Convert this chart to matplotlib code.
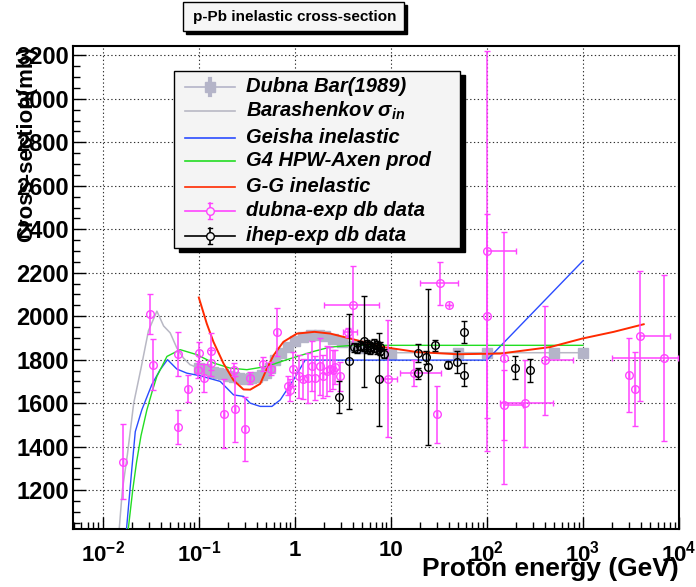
import numpy as np
import matplotlib
matplotlib.use("Agg")
import matplotlib.pyplot as plt
from matplotlib.patches import Rectangle
from matplotlib.lines import Line2D
from matplotlib.ticker import FixedLocator, FixedFormatter, MultipleLocator, NullFormatter

plt.rcParams['font.family'] = ['Liberation Sans', 'DejaVu Sans']
plt.rcParams['font.weight'] = 'bold'
plt.rcParams['mathtext.fontset'] = 'custom'
plt.rcParams['mathtext.rm'] = 'Liberation Sans:bold'
plt.rcParams['mathtext.it'] = 'Liberation Sans:bold:italic'
plt.rcParams['mathtext.bf'] = 'Liberation Sans:bold'

# --- model curves (energy GeV, sigma mb) ---
bar_E = [0.0147, 0.0160, 0.0180, 0.0210, 0.0250, 0.0299, 0.0366, 0.043, 0.0504, 0.059, 0.069,
         0.081, 0.099, 0.15, 0.2, 0.3, 0.4, 0.5, 0.6, 0.7, 0.85, 1.0, 1.25, 1.5, 2.0, 3.0, 5.0,
         10, 100, 1000]
bar_sig = [1000, 1200, 1360, 1600, 1760, 1933, 2023, 1955, 1923, 1854, 1808,
           1777, 1762, 1740, 1728, 1715, 1720, 1740, 1775, 1810, 1855, 1880, 1902, 1912, 1915, 1893, 1855,
           1832, 1832, 1832]

geisha_E = [0.0175, 0.0201, 0.0218, 0.0255, 0.0324, 0.0396, 0.0472, 0.059, 0.075, 0.103, 0.167,
            0.23, 0.292, 0.343, 0.436, 0.577, 0.705, 0.97, 1.28, 2.34, 10, 100, 1000]
geisha_sig = [1000, 1301, 1469, 1569, 1685, 1754, 1800, 1757, 1738, 1726, 1700,
              1638, 1631, 1600, 1585, 1585, 1615, 1708, 1798, 1798, 1798, 1798, 2255]

g4_E = [0.0182, 0.0205, 0.0225, 0.0250, 0.0288, 0.0330, 0.0366, 0.0466, 0.064, 0.0955, 0.142,
        0.212, 0.317, 0.51, 0.826, 1.57, 2.34, 4.0, 10, 1000]
g4_sig = [1000, 1200, 1330, 1450, 1569, 1660, 1723, 1815, 1846, 1823, 1785,
          1761, 1754, 1769, 1800, 1838, 1858, 1866, 1866, 1866]

gg_E = [0.1, 0.121, 0.142, 0.181, 0.23, 0.292, 0.343, 0.436, 0.51, 0.6, 0.76, 1.05, 1.6,
        2.34, 3.78, 8.4, 18.7, 49, 138, 457, 980, 2090, 4290]
gg_sig = [2086, 1966, 1882, 1782, 1705, 1663, 1662, 1689, 1758, 1820, 1882, 1920, 1928,
          1920, 1897, 1858, 1835, 1825, 1828, 1858, 1897, 1928, 1963]

# --- Dubna Bar (1989) ---
dbar_E = [0.1, 0.12, 0.14, 0.16, 0.18, 0.2, 0.23, 0.26, 0.3, 0.35, 0.4, 0.45, 0.5, 0.55,
          0.62, 0.72, 0.84, 1.0, 1.23, 1.48, 1.77, 2.07, 2.52, 3.1, 4.1, 5.0, 10, 50, 100, 500, 1000]
dbar_sig = [1762, 1755, 1745, 1738, 1732, 1726, 1720, 1716, 1712, 1714, 1720, 1728, 1738, 1760,
            1800, 1830, 1860, 1885, 1905, 1913, 1913, 1910, 1897, 1882, 1865, 1855, 1828, 1832, 1832, 1832, 1832]

# --- dubna-exp db data: E, sigma, yerr, x-bar low end, x-bar high end (0 = none) ---
dub_E = [0.0164, 0.0312, 0.0337, 0.0605, 0.0605, 0.0769, 0.098, 0.100, 0.114, 0.135, 0.135,
         0.185, 0.23, 0.239, 0.304, 0.343, 0.461, 0.568, 0.65, 0.84, 0.895, 0.95, 1.11, 1.21,
         1.37, 1.5, 1.63, 1.81, 1.96, 2.16, 2.34, 2.5, 2.63, 2.97, 3.57, 4.03, 9.3, 17.2,
         30.2, 32.1, 40.5, 100, 100, 149, 149, 251, 399, 3000, 3470, 3960, 6920]
dub_sig = [1331, 2008, 1777, 1826, 1492, 1666, 1754, 1831, 1714, 1838, 1785,
           1551, 1754, 1572, 1480, 1715, 1780, 1758, 1928, 1680, 1662, 1757, 1723, 1711,
           1715, 1769, 1715, 1769, 1723, 1746, 1757, 1754, 1766, 1723, 1926, 2050, 1712, 1738,
           1548, 2151, 2051, 2300, 2000, 1808, 1592, 1600, 1797, 1728, 1666, 1908, 1808]
dub_err = [171, 92, 117, 100, 78, 62, 40, 50, 65, 85, 60,
           158, 31, 151, 146, 27, 30, 30, 110, 43, 50, 80, 100, 90,
           115, 115, 100, 130, 100, 115, 100, 90, 80, 65, 20, 180, 270, 60,
           130, 98, 0, 920, 470, 580, 160, 200, 250, 170, 170, 300, 380]
dub_xlo = [0] * 34 + [3.2, 2.0, 7.8, 12.5, 0, 19.9, 0, 100, 0, 0, 149, 138, 399, 0, 0, 3960, 2010]
dub_xhi = [0] * 34 + [4.4, 7.5, 11.5, 33.0, 0, 49.5, 0, 200, 0, 0, 235, 490, 796, 0, 0, 8000, 9860]

# --- ihep-exp db data ---
ihep_E = [2.85, 3.63, 4.09, 4.43, 4.8, 5.2, 5.2, 5.63, 5.63, 6.1, 6.1, 6.6, 6.6, 7.16, 7.16,
          7.76, 7.76, 8.4, 7.45, 19, 19, 23.4, 24.3, 29, 39.4, 48.8, 58.2, 58.2, 198, 279]
ihep_sig = [1628, 1792, 1857, 1850, 1865, 1885, 1860, 1870, 1850, 1860, 1845, 1875, 1855, 1868, 1848,
            1860, 1840, 1828, 1709, 1831, 1738, 1812, 1766, 1866, 1777, 1789, 1928, 1731, 1762, 1751]
ihep_err = [75, 218, 20, 20, 20, 210, 20, 20, 20, 20, 20, 20, 20, 20, 20,
            20, 20, 20, 215, 40, 25, 30, 360, 25, 15, 50, 50, 52, 53, 54]

W, H = 696, 587
def fx(px):
    return px / W
def fy(py):
    return 1 - py / H

C_BAR = '#b4b4c8'
C_BARLINE = '#b8b8c4'
C_BLUE = '#2b4cff'
C_GREEN = '#22dd22'
C_RED = '#ff2a00'
C_MAG = '#ff44ff'

fig = plt.figure(figsize=(6.96, 5.87), dpi=100)
ax = fig.add_axes([fx(73), fy(529), (679 - 73) / W, (529 - 46) / H])
ax.set_xscale('log')
ax.set_xlim(10 ** -2.31, 1e4)
ax.set_ylim(1021, 3243)

ax.plot(bar_E, bar_sig, color=C_BARLINE, lw=1.1, zorder=2)
ax.errorbar(dbar_E, dbar_sig, yerr=12, fmt='s', color=C_BAR, ms=6.5, elinewidth=3, capsize=0, zorder=2)
ax.plot(geisha_E, geisha_sig, color=C_BLUE, lw=1.0, zorder=3)
ax.plot(g4_E, g4_sig, color=C_GREEN, lw=1.0, zorder=3)
ax.plot(gg_E, gg_sig, color=C_RED, lw=1.4, zorder=3)

dE = np.array(dub_E)
lo = np.array(dub_xlo, dtype=float)
hi = np.array(dub_xhi, dtype=float)
xerr_lo = np.where(lo > 0, dE - lo, 0)
xerr_hi = np.where(hi > 0, hi - dE, 0)
ax.errorbar(dub_E, dub_sig, yerr=dub_err, xerr=[xerr_lo, xerr_hi], fmt='o', mfc='none',
            mec=C_MAG, ecolor=C_MAG, ms=5.5, mew=1.0, elinewidth=1.1, capsize=2, zorder=4)
ax.errorbar(ihep_E, ihep_sig, yerr=ihep_err, fmt='o', mfc='none', mec='black', ecolor='black',
            ms=5.5, mew=1.0, elinewidth=1.0, capsize=2, zorder=5)

ax.xaxis.set_major_locator(FixedLocator([1e-2, 1e-1, 1, 10, 1e2, 1e3, 1e4]))
ax.xaxis.set_major_formatter(FixedFormatter([r'$10^{-2}$', r'$10^{-1}$', '1', '10',
                                             r'$10^{2}$', r'$10^{3}$', r'$10^{4}$']))
minors = [m * 10.0 ** d for d in range(-3, 4) for m in range(2, 10)]
ax.xaxis.set_minor_locator(FixedLocator(minors))
ax.xaxis.set_minor_formatter(NullFormatter())
ax.yaxis.set_major_locator(MultipleLocator(200))
ax.yaxis.set_minor_locator(MultipleLocator(50))
ax.tick_params(which='both', direction='in', top=False, right=False, labelsize=16, width=1.0)
ax.tick_params(axis='y', labelsize=17, pad=3)
ax.tick_params(which='major', length=9)
ax.tick_params(which='minor', length=5)
ax.tick_params(axis='x', pad=8)
ax.grid(True, which='major', color='#303030', lw=0.8, linestyle=(0, (1.2, 2.2)))
for s in ax.spines.values():
    s.set_linewidth(1.5)

# y label overlaps the tick labels, as in the original
fig.text(fx(27), fy(46), 'Cross-section(mb)', rotation=90, ha='center', va='top', fontsize=16)
fig.text(fx(679), fy(576), 'Proton energy (GeV)', ha='right', va='baseline', fontsize=19)

# title box
fig.add_artist(Rectangle((fx(186), fy(34)), fx(221), 29 / H, transform=fig.transFigure,
                         facecolor='black', edgecolor='black', zorder=5))
fig.add_artist(Rectangle((fx(183), fy(31)), fx(221), 29 / H, transform=fig.transFigure,
                         facecolor='#f6f6f6', edgecolor='black', lw=1, zorder=6))
fig.text(fx(295), fy(17), 'p-Pb inelastic cross-section', ha='center', va='center',
         fontsize=11, zorder=7)

# legend box
fig.add_artist(Rectangle((fx(179), fy(252)), fx(286), 177 / H, transform=fig.transFigure,
                         facecolor='black', edgecolor='black', zorder=5))
fig.add_artist(Rectangle((fx(174), fy(248)), fx(286), 177 / H, transform=fig.transFigure,
                         facecolor='#f4f4f4', edgecolor='black', lw=1, zorder=6))

labels = ['Dubna Bar(1989)', r'Barashenkov $\sigma_{in}$', 'Geisha inelastic', 'G4 HPW-Axen prod',
          'G-G inelastic', 'dubna-exp db data', 'ihep-exp db data']
colors = [C_BAR, C_BARLINE, C_BLUE, C_GREEN, C_RED, C_MAG, 'black']
rows = [86.7, 110.7, 137.7, 161, 186.7, 210.7, 235.7]
for i, (lab, col, ry) in enumerate(zip(labels, colors, rows)):
    fig.add_artist(Line2D([fx(185), fx(235)], [fy(ry), fy(ry)], transform=fig.transFigure,
                          color=col, lw=1.2, zorder=7))
    if i in (0, 5, 6):
        fig.add_artist(Line2D([fx(210), fx(210)], [fy(ry - 8), fy(ry + 8)], transform=fig.transFigure,
                              color=col, lw=1.2 if i else 3, zorder=7))
    if i == 0:
        fig.add_artist(Line2D([fx(210)], [fy(ry)], transform=fig.transFigure, marker='s', ms=6.5,
                              color=col, zorder=8))
    if i in (5, 6):
        for cy in (ry - 8, ry + 8):
            fig.add_artist(Line2D([fx(208), fx(212)], [fy(cy), fy(cy)], transform=fig.transFigure,
                                  color=col, lw=1.0, zorder=7))
        fig.add_artist(Line2D([fx(210)], [fy(ry)], transform=fig.transFigure, marker='o', ms=5.5,
                              mfc='#f4f4f4', mec=col, mew=1.0, zorder=8))
    fig.text(fx(246), fy(ry), lab, ha='left', va='center', fontsize=14.5, style='italic', zorder=9)

fig.savefig('out.png', dpi=100)
